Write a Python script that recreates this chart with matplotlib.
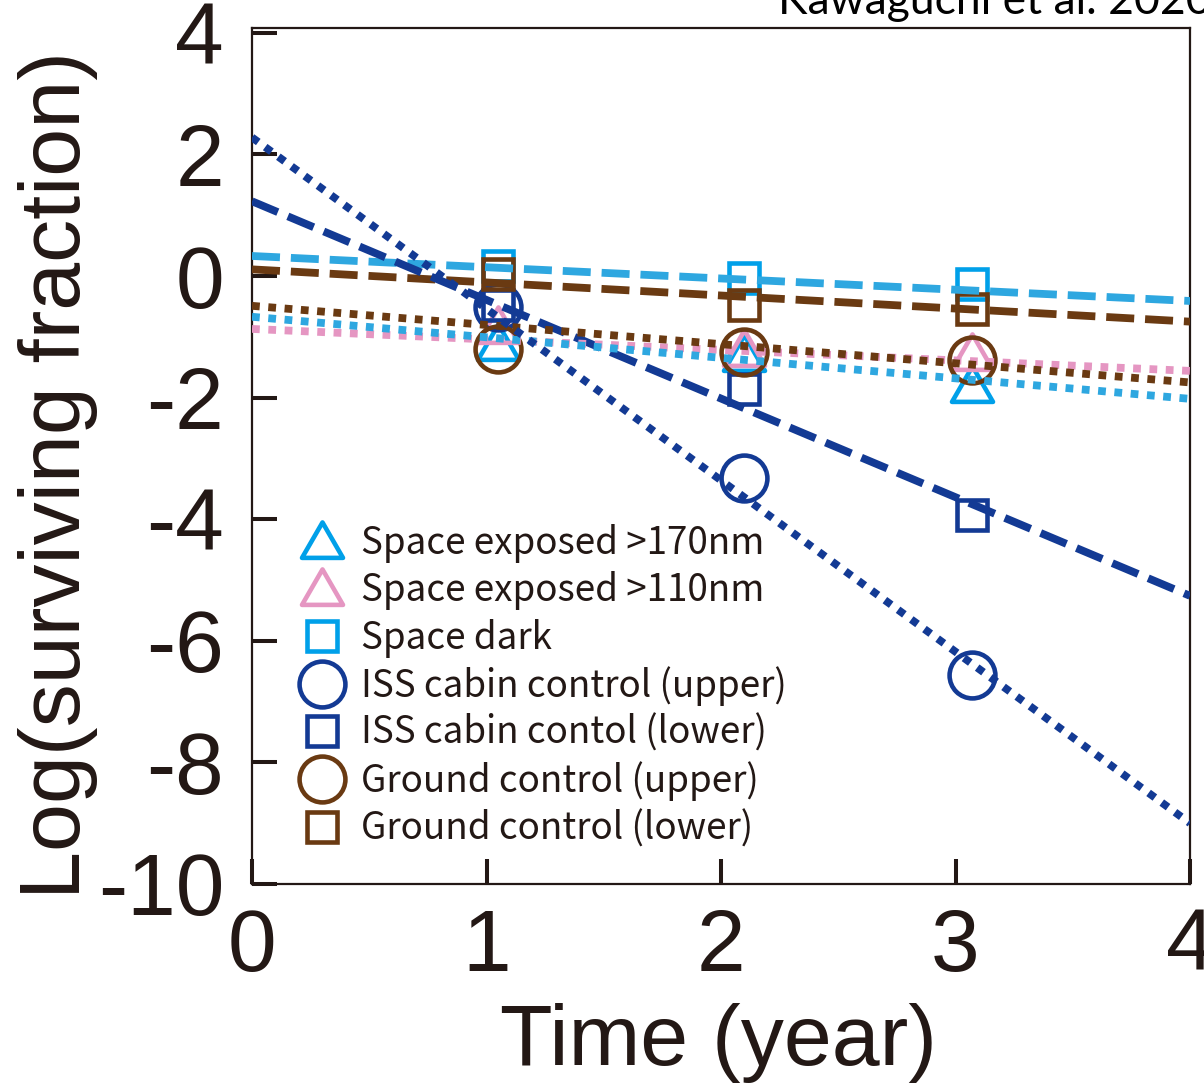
import matplotlib
matplotlib.use('Agg')
import matplotlib.pyplot as plt
from matplotlib.path import Path

plt.rcParams['axes.unicode_minus'] = False

# measured points (year, log surviving fraction)
years = [1.05, 2.1, 3.07]
space_170 = [-1.1, -1.28, -1.79]
space_110 = [-0.82, -1.2, -1.26]
space_dark = [0.16, -0.03, -0.13]
iss_upper = [-0.51, -3.33, -6.56]
iss_lower = [-0.48, -1.85, -3.93]
ground_upper = [-1.2, -1.25, -1.38]
ground_lower = [0.03, -0.48, -0.54]

# fitted lines, values at year 0 and year 4
fit_x = [0, 4]
fit_space_170 = [-0.67, -2.02]
fit_space_110 = [-0.87, -1.56]
fit_space_dark = [0.33, -0.41]
fit_iss_upper = [2.28, -9.0]
fit_iss_lower = [1.23, -5.26]
fit_ground_upper = [-0.49, -1.75]
fit_ground_lower = [0.11, -0.75]

labels = ['Space exposed >170nm', 'Space exposed >110nm', 'Space dark',
          'ISS cabin control (upper)', 'ISS cabin contol (lower)',
          'Ground control (upper)', 'Ground control (lower)']

xticks = [0, 1, 2, 3, 4]
yticks = [-10, -8, -6, -4, -2, 0, 2, 4]

INK = '#231815'
CYAN_M = '#00a0e9'
CYAN_L = '#2ea7e0'
PINK = '#e596c2'
NAVY = '#133a94'
BROWN = '#6a3a12'

tri = Path([(-1, -0.8), (1, -0.8), (0, 0.93), (0, 0)],
           [Path.MOVETO, Path.LINETO, Path.LINETO, Path.CLOSEPOLY])

fig = plt.figure(figsize=(12.04, 10.83), dpi=100)
ax = fig.add_axes([252 / 1204, 1 - 884 / 1083, 938 / 1204, 856 / 1083])

series = [
    (space_170, tri, 29.5, CYAN_M),
    (space_110, tri, 29.5, PINK),
    (space_dark, 's', 21, CYAN_M),
    (iss_upper, 'o', 33, NAVY),
    (iss_lower, 's', 21, NAVY),
    (ground_upper, 'o', 33, BROWN),
    (ground_lower, 's', 21, BROWN),
]
for (vals, mk, ms, col), lab in zip(series, labels):
    ax.plot(years, vals, ls='none', marker=mk, ms=ms, mfc='none',
            mec=col, mew=3.3, label=lab, zorder=2)

dash = (0, (3.6, 1.4))
dot = (0, (1, 1.1))
fits = [
    (fit_space_dark, CYAN_L, dash),
    (fit_ground_lower, BROWN, dash),
    (fit_iss_lower, NAVY, dash),
    (fit_space_110, PINK, dot),
    (fit_space_170, CYAN_L, dot),
    (fit_ground_upper, BROWN, dot),
    (fit_iss_upper, NAVY, dot),
]
for vals, col, ls in fits:
    ax.plot(fit_x, vals, color=col, lw=5.6, ls=ls, zorder=3)

ax.set_xlim(0, 4)
ax.set_ylim(-9.95, 4.08)
ax.set_xticks(xticks)
ax.set_yticks(yticks)
for sp in ax.spines.values():
    sp.set_color(INK)
    sp.set_linewidth(1.6)
ax.tick_params(direction='in', length=18, width=2.9, color=INK,
               labelcolor=INK, labelsize=63)
ax.tick_params(axis='x', pad=17)
ax.tick_params(axis='y', pad=20)
for t in ax.get_xticklabels() + ax.get_yticklabels():
    t.set_fontfamily('Liberation Sans')

ax.set_xlabel('Time (year)', fontsize=62, family='Liberation Sans', color=INK)
ax.xaxis.set_label_coords(0.497, -0.2115)
ax.xaxis.label.set_verticalalignment('baseline')
ax.set_ylabel('Log(surviving fraction)', fontsize=62, family='Liberation Sans',
              color=INK)
ax.yaxis.set_label_coords(-0.164, 0.478)

leg = ax.legend(loc='upper left', bbox_to_anchor=(0.057, 0.4205), frameon=False,
                numpoints=1, handlelength=0.92, handletextpad=0.58,
                labelspacing=0.225, borderpad=0, borderaxespad=0,
                prop={'family': 'Noto Sans CJK JP', 'size': 26.5})
for t in leg.get_texts():
    t.set_color(INK)

fig.text(778 / 1204, 1 - 14 / 1083, 'Kawaguchi et al. 2020', fontsize=32,
         family='Lato', color='black', ha='left', va='baseline')

fig.savefig('out.png', dpi=100)
